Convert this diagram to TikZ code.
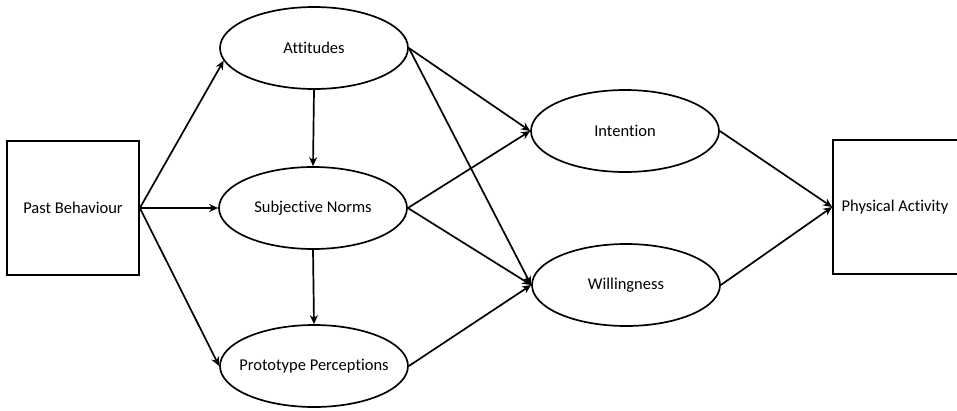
\documentclass[tikz,border=0pt]{standalone}
\usepackage{fontspec}
\setmainfont{Carlito}[Ligatures={NoCommon}]
\usetikzlibrary{shapes.geometric,arrows.meta}
\begin{document}
\begin{tikzpicture}[x=1pt,y=-1pt,
  every node/.style={font=\fontsize{16.5}{19}\selectfont},
  every label/.style={font=\fontsize{16.5}{19}\selectfont},
  ell/.style={draw, line width=1.7pt, ellipse, minimum width=188pt, minimum height=82pt, inner sep=0pt, label=center:{#1}},
  boxn/.style={draw, line width=1.7pt, rectangle, minimum width=132pt, minimum height=134pt, inner sep=0pt},
  arr/.style={line width=1.7pt, -{Stealth[length=9pt,width=8pt]}}]
\useasboundingbox (0,0) rectangle (957,410);
\node[boxn] (past) at (73,208) {Past Behaviour};
\node[boxn, label={[xshift=-4pt]center:Physical Activity}] (phys) at (899,207) {};
\node[ell=Attitudes] (att) at (314,48) {};
\node[ell=Subjective Norms] (sub) at (313,208) {};
\node[ell=Prototype Perceptions] (pro) at (314,366) {};
\node[ell=Intention] (int) at (625,131) {};
\node[ell=Willingness] (wil) at (626,285) {};
\draw[arr] (past.east) -- (att.188);
\draw[arr] (past.east) -- (sub.west);
\draw[arr] (past.east) -- (pro.west);
\draw[arr] (att.south) -- (sub.north);
\draw[arr] (sub.south) -- (pro.north);
\draw[arr] (att.east) -- (int.west);
\draw[arr] (att.east) -- (wil.west);
\draw[arr] (sub.east) -- (int.west);
\draw[arr] (sub.east) -- (wil.west);
\draw[arr] (pro.east) -- (wil.west);
\draw[arr] (int.east) -- (phys.west);
\draw[arr] (wil.east) -- (phys.west);
\end{tikzpicture}
\end{document}
